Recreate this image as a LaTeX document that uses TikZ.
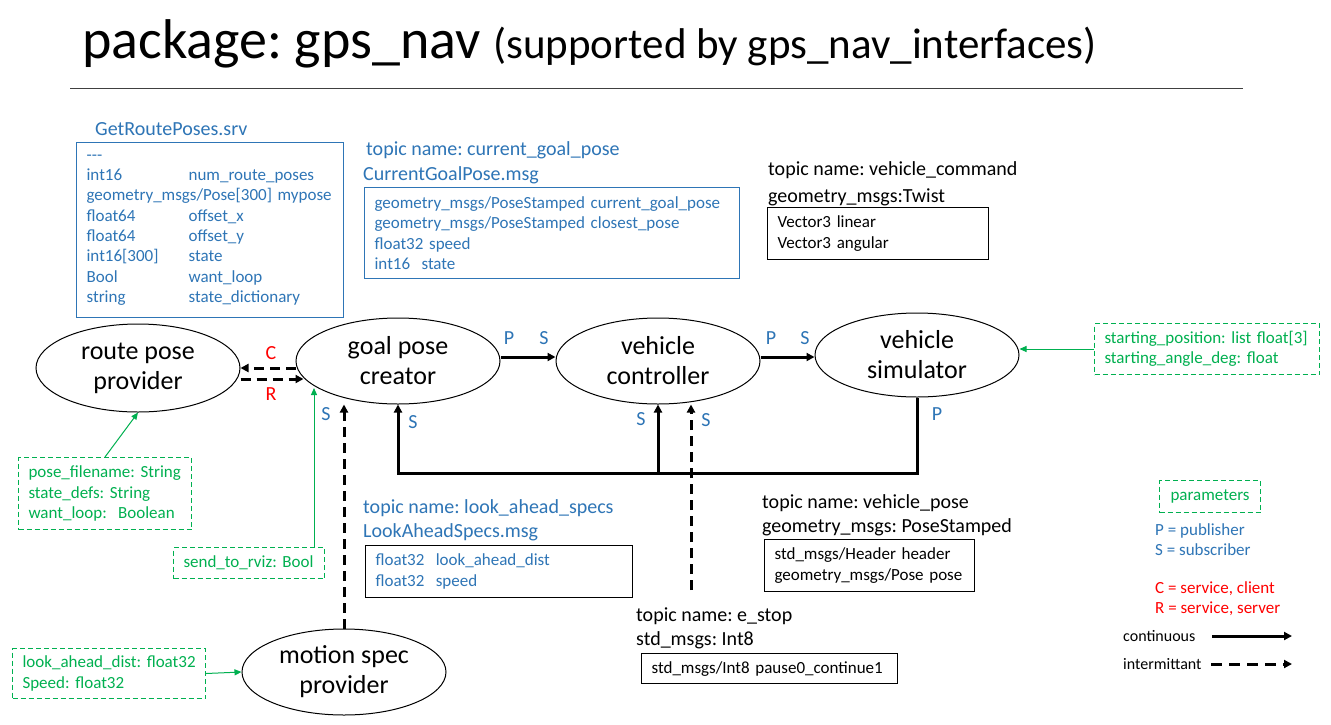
\documentclass[tikz,border=0pt]{standalone}
\usepackage{fontspec}
\setmainfont{Carlito}
\frenchspacing
\usetikzlibrary{arrows.meta,positioning,calc,shapes.geometric}
\definecolor{MsgBlue}{HTML}{2E75B6}
\definecolor{ParamGreen}{HTML}{00B050}
\definecolor{SrvRed}{HTML}{FF0000}
\newcommand{\titlesz}{\fontsize{56}{60}\selectfont}
\newcommand{\subsz}{\fontsize{43}{48}\selectfont}
\newcommand{\headsz}{\fontsize{20}{24}\selectfont}
\newcommand{\boxsz}{\fontsize{17}{20.3}\selectfont}
\newcommand{\legsz}{\fontsize{16}{19}\selectfont}
\newcommand{\nodesz}{\fontsize{26}{30}\selectfont}
\tikzset{
  proc/.style={draw,ellipse,line width=1pt,minimum width=204pt,minimum height=86pt,inner sep=0pt,align=center,font=\nodesz},
  msgbox/.style={draw,anchor=north west,line width=1.2pt,align=left,inner xsep=10pt,inner ysep=0pt,font=\boxsz},
  parambox/.style={draw=ParamGreen,anchor=north west,dash pattern=on 5pt off 3pt,line width=1pt,align=left,inner xsep=10pt,inner ysep=0pt,font=\boxsz,text=ParamGreen},
  head/.style={anchor=base west,inner sep=0pt,font=\headsz},
  pslbl/.style={anchor=base,inner sep=0pt,font=\headsz,text=MsgBlue},
  cont/.style={-{Triangle[length=8pt,width=8pt]},line width=3pt},
  intermit/.style={-{Triangle[length=8pt,width=8pt]},line width=3pt,dash pattern=on 10pt off 6pt},
  param/.style={-{Triangle[length=7pt,width=6pt]},draw=ParamGreen,line width=1pt},
}
\begin{document}
\begin{tikzpicture}[x=1pt,y=-1pt]
\path[fill=white,use as bounding box] (0,0) rectangle (1331,724);
% title
\node[anchor=base west,inner sep=0pt,font=\titlesz] (title) at (82,58) {package: gps\_nav \subsz(supported by gps\_nav\_interfaces)};
\draw[line width=1pt,black!75] (70,88) -- (1243,88);
% service and messages
\node[head,text=MsgBlue] (srvname) at (95,135) {GetRoutePoses.srv};
\node[msgbox,draw=MsgBlue,text=MsgBlue,text width=247pt,minimum height=175pt] (srvbox) at (76,142) {-{}-{}-\\
  \makebox[102pt][l]{int16}num\_route\_poses\\
  \mbox{geometry\_msgs/Pose[300] mypose}\\
  \makebox[102pt][l]{float64}offset\_x\\
  \makebox[102pt][l]{float64}offset\_y\\
  \makebox[102pt][l]{int16[300]}state\\
  \makebox[102pt][l]{Bool}want\_loop\\
  \makebox[102pt][l]{string}state\_dictionary};
\node[head,text=MsgBlue] (goaltopic) at (366,155) {topic name: current\_goal\_pose};
\node[head,text=MsgBlue] (goalmsg) at (363,180) {CurrentGoalPose.msg};
\node[msgbox,draw=MsgBlue,text=MsgBlue,text width=355pt,minimum height=91pt] (goalbox) at (364,187) {\mbox{geometry\_msgs/PoseStamped current\_goal\_pose}\\ geometry\_msgs/PoseStamped closest\_pose\\ float32 speed\\ int16~ state};
\node[head] (cmdtopic) at (768,175) {topic name: vehicle\_command};
\node[head] (cmdmsg) at (768,202) {geometry\_msgs:Twist};
\node[msgbox,text width=201pt,minimum height=52pt] (cmdbox) at (767,207) {Vector3 linear\\ Vector3 angular};
\node[head,text=MsgBlue] (looktopic) at (363,513) {topic name: look\_ahead\_specs};
\node[head,text=MsgBlue] (lookmsg) at (363,537) {LookAheadSpecs.msg};
\node[msgbox,text=MsgBlue,text width=247pt,minimum height=52pt] (lookbox) at (365,545) {float32~ look\_ahead\_dist\\ float32~ speed};
\node[head] (posetopic) at (762,508) {topic name: vehicle\_pose};
\node[head] (posemsg) at (762,532) {geometry\_msgs: PoseStamped};
\node[msgbox,text width=190pt,minimum height=52pt] (posebox) at (764,539) {std\_msgs/Header header\\ geometry\_msgs/Pose pose};
\node[head] (stoptopic) at (636,621) {topic name: e\_stop};
\node[head] (stopmsg) at (636,645) {std\_msgs: Int8};
\node[msgbox,text width=236pt,minimum height=30pt] (stopbox) at (641,653) {std\_msgs/Int8 pause0\_continue1};
% parameters
\node[parambox,text width=153pt,minimum height=72pt] (filebox) at (18,457) {\mbox{pose\_filename: String}\\ state\_defs: String\\ \mbox{want\_loop:~ Boolean}};
\node[parambox,text width=131pt,minimum height=31pt] (rvizbox) at (173,547) {\mbox{send\_to\_rviz: Bool}};
\node[parambox,text width=205pt,minimum height=51pt] (startbox) at (1094,323) {\mbox{starting\_position: list float[3]}\\ starting\_angle\_deg: float};
\node[parambox,text width=173pt,minimum height=50pt] (speedbox) at (12,648) {\mbox{look\_ahead\_dist: float32}\\ Speed: float32};
% nodes
\node[proc,minimum height=88pt] (route) at (138,368) {route pose\\provider};
\node[proc] (goal) at (398,361) {goal pose\\creator};
\node[proc] (ctrl) at (658,361) {vehicle\\controller};
\node[proc,minimum height=84pt] (sim) at (917,355) {vehicle\\simulator};
\node[proc] (motion) at (344,672) {motion spec\\provider};
\coordinate (busy) at (0,473);
\coordinate (estop) at (691,590);
% topics
\draw[cont] ([yshift=4pt]goal.east) -- ([yshift=4pt]ctrl.west);
\draw[cont] ([yshift=4pt]ctrl.east) -- ([yshift=-2pt]sim.west);
\draw[cont] (sim.south) |- (goal.south |- busy) -- (goal.south);
\draw[cont] (ctrl.south |- busy) -- (ctrl.south);
\draw[intermit] (estop) -- (estop |- ctrl.south);
\draw[intermit] (motion.north) -- (motion.north |- goal.south);
% service
\draw[intermit] ([yshift=-7pt]goal.west) -- (route.east);
\draw[intermit] ([yshift=-11pt]route.east) -- ([shift={(8pt,-18pt)}]goal.west);
\node[pslbl,text=SrvRed] (clbl) at (271,359) {C};
\node[pslbl,text=SrvRed] (rlbl) at (271,400) {R};
% params
\draw[param] (filebox.north) -- (route.south);
\draw[param] ([xshift=-11pt]rvizbox.north east) -- ++(0,-159);
\draw[param] (startbox.west) -- (startbox.west -| sim.east);
\draw[param] (speedbox.east) -- (motion.west);
% P/S
\node[pslbl] (p1) at (509,344) {P};
\node[pslbl] (s1) at (544,344) {S};
\node[pslbl] (p2) at (771,344) {P};
\node[pslbl] (s2) at (805,344) {S};
\node[pslbl] (s3) at (326,420) {S};
\node[pslbl] (s4) at (413,428) {S};
\node[pslbl] (s5) at (641,425) {S};
\node[pslbl] (s6) at (706,426) {S};
\node[pslbl] (p3) at (937,420) {P};
% legend
\node[parambox,text width=81pt,minimum height=32pt,align=center] (legparam) at (1159,480) {parameters};
\node[head,font=\boxsz,text=MsgBlue] (legp) at (1155,535) {P = publisher};
\node[head,font=\boxsz,text=MsgBlue] (legs) at (1155,555) {S = subscriber};
\node[head,font=\boxsz,text=SrvRed] (legc) at (1155,593) {C = service, client};
\node[head,font=\boxsz,text=SrvRed] (legr) at (1155,613) {R = service, server};
\node[head,font=\legsz] (legcont) at (1123,641) {continuous};
\node[head,font=\legsz] (legint) at (1123,669) {intermittant};
\coordinate (contstart) at (1212,636);
\coordinate (contend) at (1292,636);
\coordinate (intstart) at (1211,664);
\coordinate (intend) at (1292,664);
\draw[cont] (contstart) -- (contend);
\draw[intermit,dash pattern=on 11pt off 7pt] (intstart) -- (intend);
\end{tikzpicture}
\end{document}
